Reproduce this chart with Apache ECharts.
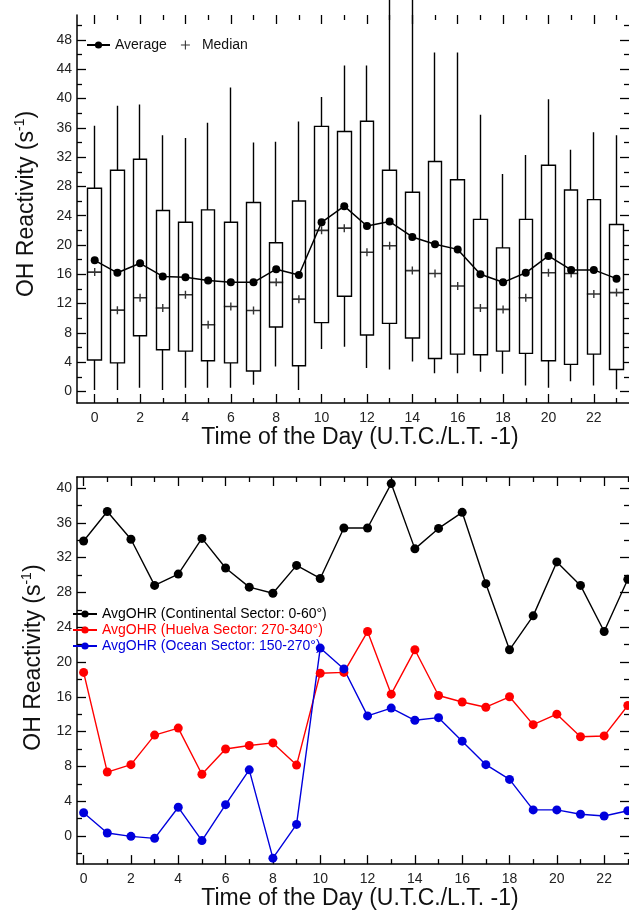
<!DOCTYPE html>
<html>
<head>
<meta charset="utf-8">
<script src="https://cdn.jsdelivr.net/npm/echarts@6/dist/echarts.min.js"></script>
<style>
html, body { margin: 0; padding: 0; background: #fff; }
#chart { width: 629px; height: 911px; }
</style>
</head>
<body>
<div id="chart"></div>
<script>
// hour of day
const hours = [0, 1, 2, 3, 4, 5, 6, 7, 8, 9, 10, 11, 12, 13, 14, 15, 16, 17, 18, 19, 20, 21, 22, 23];

// top panel - hourly box statistics of OH reactivity (s-1)
const whiskerLow  = [0.2, 0.2, 0.5, 0.2, 0.5, 0.5, 0.5, 0.9, 3.4, 0.2, 5.8, 6.1, 3.2, 3.0, 4.1, 2.5, 2.5, 2.7, 2.4, 0.8, 0.5, 1.4, 0.8, 0.3];
const q1          = [4.3, 3.9, 7.6, 5.7, 5.5, 4.2, 3.9, 2.8, 8.8, 3.5, 9.4, 13.0, 7.7, 9.3, 7.3, 4.5, 5.1, 5.0, 5.5, 5.2, 4.2, 3.7, 5.1, 3.0];
const median      = [16.3, 11.1, 12.8, 11.4, 13.2, 9.1, 11.6, 11.05, 14.9, 12.6, 22.0, 22.3, 19.0, 19.9, 16.5, 16.1, 14.4, 11.4, 11.2, 12.8, 16.2, 16.1, 13.3, 13.5];
const q3          = [27.75, 30.2, 31.7, 24.7, 23.1, 24.8, 23.1, 25.8, 20.3, 26.0, 36.2, 35.5, 36.9, 30.2, 27.2, 31.4, 28.9, 23.5, 19.6, 23.5, 30.9, 27.5, 26.2, 22.8];
const whiskerHigh = [36.3, 39.0, 39.2, 35.0, 34.6, 36.7, 41.5, 34.0, 34.1, 36.85, 40.2, 44.5, 44.5, 55, 55, 46.3, 46.3, 37.8, 29.7, 32.3, 39.9, 33.0, 35.4, 35.0];
const average     = [17.9, 16.2, 17.5, 15.7, 15.6, 15.15, 14.9, 14.9, 16.7, 15.9, 23.1, 25.3, 22.6, 23.2, 21.1, 20.1, 19.4, 16.0, 14.9, 16.2, 18.5, 16.6, 16.6, 15.4];

// bottom panel - average OHR by wind sector
const continental = [33.9, 37.3, 34.1, 28.8, 30.1, 34.2, 30.8, 28.6, 27.9, 31.1, 29.6, 35.4, 35.4, 40.5, 33.0, 35.35, 37.2, 29.0, 21.4, 25.3, 31.5, 28.8, 23.5, 29.5];
const huelva      = [18.8, 7.35, 8.2, 11.6, 12.4, 7.1, 10.0, 10.4, 10.7, 8.15, 18.7, 18.8, 23.5, 16.3, 21.4, 16.15, 15.4, 14.8, 16.0, 12.8, 14.0, 11.4, 11.5, 15.0];
const ocean       = [2.67, 0.34, -0.04, -0.27, 3.3, -0.53, 3.6, 7.6, -2.55, 1.33, 21.6, 19.2, 13.8, 14.7, 13.3, 13.6, 10.9, 8.2, 6.5, 3.0, 3.0, 2.5, 2.3, 2.9];

// tick values
const hourLabels = [0, 2, 4, 6, 8, 10, 12, 14, 16, 18, 20, 22];
const hourMinor  = [1, 3, 5, 7, 9, 11, 13, 15, 17, 19, 21, 23];
const topYLabels = [0, 4, 8, 12, 16, 20, 24, 28, 32, 36, 40, 44, 48];
const topYMinor  = [2, 6, 10, 14, 18, 22, 26, 30, 34, 38, 42, 46, 50];
const botYLabels = [0, 4, 8, 12, 16, 20, 24, 28, 32, 36, 40];
const botYMinor  = [-2, 2, 6, 10, 14, 18, 22, 26, 30, 34, 38];

const FONT = "'Liberation Sans', Arial, sans-serif";
const xTitle = 'Time of the Day (U.T.C./L.T. -1)';
const yTitle = '{a|OH Reactivity (s}{b|-1}{a|)}';

// one axis of the frame; only the "main" ones carry labels
function makeAxis(grid, pos, min, max, ticks, len, lineShow, labels) {
  const ax = {
    type: 'value', gridIndex: grid, position: pos, min: min, max: max,
    axisLine: { show: lineShow, onZero: false, lineStyle: { color: '#000', width: 1.5 } },
    axisTick: { show: true, inside: true, length: len, customValues: ticks,
                lineStyle: { color: '#000', width: 1.3 } },
    axisLabel: { show: false },
    splitLine: { show: false }
  };
  if (labels) {
    ax.axisLabel = { show: true, customValues: labels, fontSize: 14, color: '#222',
                     fontFamily: FONT, margin: (pos === 'left' ? 5 : 8) };
  }
  return ax;
}

const xRange = [[-0.78, 23.55], [-0.28, 23.05]];
const yRange = [[-1.58, 51.41], [-3.23, 41.26]];
const yLab = [topYLabels, botYLabels];
const yMin = [topYMinor, botYMinor];

const xAxes = [];
const yAxes = [];
for (let g = 0; g < 2; g++) {
  const xm = makeAxis(g, 'bottom', xRange[g][0], xRange[g][1], hourLabels, 9, true, hourLabels);
  xm.name = xTitle;
  xm.nameLocation = 'middle';
  xm.nameGap = g === 0 ? 23 : 20;
  xm.nameTextStyle = { fontSize: 23, color: '#111', fontFamily: FONT, padding: [0, 0, 0, 14] };
  xAxes.push(xm);
  xAxes.push(makeAxis(g, 'bottom', xRange[g][0], xRange[g][1], hourMinor, 5, false));
  xAxes.push(makeAxis(g, 'top', xRange[g][0], xRange[g][1], hourLabels, 9, g === 1));
  xAxes.push(makeAxis(g, 'top', xRange[g][0], xRange[g][1], hourMinor, 5, false));

  const ym = makeAxis(g, 'left', yRange[g][0], yRange[g][1], yLab[g], 9, true, yLab[g]);
  ym.name = yTitle;
  ym.nameLocation = 'middle';
  ym.nameGap = g === 0 ? 36 : 27;
  ym.nameTextStyle = {
    color: '#111', fontFamily: FONT, padding: [0, 0, 0, g === 0 ? 10 : 26],
    rich: {
      a: { fontSize: 23, fontFamily: FONT, color: '#111', lineHeight: 28 },
      b: { fontSize: 14, fontFamily: FONT, color: '#111', verticalAlign: 'top', lineHeight: 14 }
    }
  };
  yAxes.push(ym);
  yAxes.push(makeAxis(g, 'left', yRange[g][0], yRange[g][1], yMin[g], 5, false));
  yAxes.push(makeAxis(g, 'right', yRange[g][0], yRange[g][1], yLab[g], 9, false));
  yAxes.push(makeAxis(g, 'right', yRange[g][0], yRange[g][1], yMin[g], 5, false));
}

const boxData = hours.map((h, i) => [h, q1[i], q3[i], whiskerLow[i], whiskerHigh[i]]);
const medianSymbol = 'path://M0,3.2h14v1.6h-14z M6.3,0h1.4v8h-1.4z';
const plusIcon = 'path://M0,4.4h10v1.2h-10z M4.4,0h1.2v10h-1.2z';

const names = ['AvgOHR (Continental Sector: 0-60°)', 'AvgOHR (Huelva Sector: 270-340°)', 'AvgOHR (Ocean Sector: 150-270°)'];
const colors = ['#000000', '#ff0000', '#0000dd'];
const sectors = [continental, huelva, ocean];

const chart = echarts.init(document.getElementById('chart'));
const option = {
  animation: false,
  backgroundColor: '#fff',
  grid: [
    { left: 77, top: 15, width: 552, height: 388 },
    { left: 77, top: 477, width: 552, height: 389 }
  ],
  xAxis: xAxes,
  yAxis: yAxes,
  legend: [
    {
      left: 81, top: 33, itemWidth: 23, itemHeight: 9, itemGap: 14,
      textStyle: { fontSize: 14, color: '#111', fontFamily: FONT },
      data: [{ name: 'Average' }, { name: 'Median', icon: plusIcon }]
    },
    {
      left: 67, top: 602, orient: 'vertical', itemWidth: 24, itemHeight: 9, itemGap: 2,
      textStyle: { fontSize: 14, fontFamily: FONT },
      data: names.map((n, i) => ({ name: n, textStyle: { color: colors[i] } }))
    }
  ],
  series: [
    {
      type: 'candlestick', name: 'box', xAxisIndex: 0, yAxisIndex: 0,
      barWidth: 14,
      itemStyle: { color: '#fff', color0: '#fff', borderColor: '#000', borderColor0: '#000', borderWidth: 1.4 },
      data: boxData
    },
    {
      type: 'scatter', name: 'Median', xAxisIndex: 0, yAxisIndex: 0,
      symbol: medianSymbol, symbolSize: [14, 8],
      itemStyle: { color: '#000' },
      data: hours.map((h, i) => [h, median[i]])
    },
    {
      type: 'line', name: 'Average', xAxisIndex: 0, yAxisIndex: 0,
      symbol: 'circle', symbolSize: 8,
      lineStyle: { color: '#000', width: 1.5 },
      itemStyle: { color: '#000' },
      data: hours.map((h, i) => [h, average[i]])
    }
  ].concat(sectors.map((arr, k) => ({
    type: 'line', name: names[k], xAxisIndex: 4, yAxisIndex: 4,
    symbol: 'circle', symbolSize: 9,
    lineStyle: { color: colors[k], width: 1.4 },
    itemStyle: { color: colors[k] },
    data: hours.map((h, i) => [h, arr[i]])
  })))
};
chart.setOption(option);
</script>
</body>
</html>
